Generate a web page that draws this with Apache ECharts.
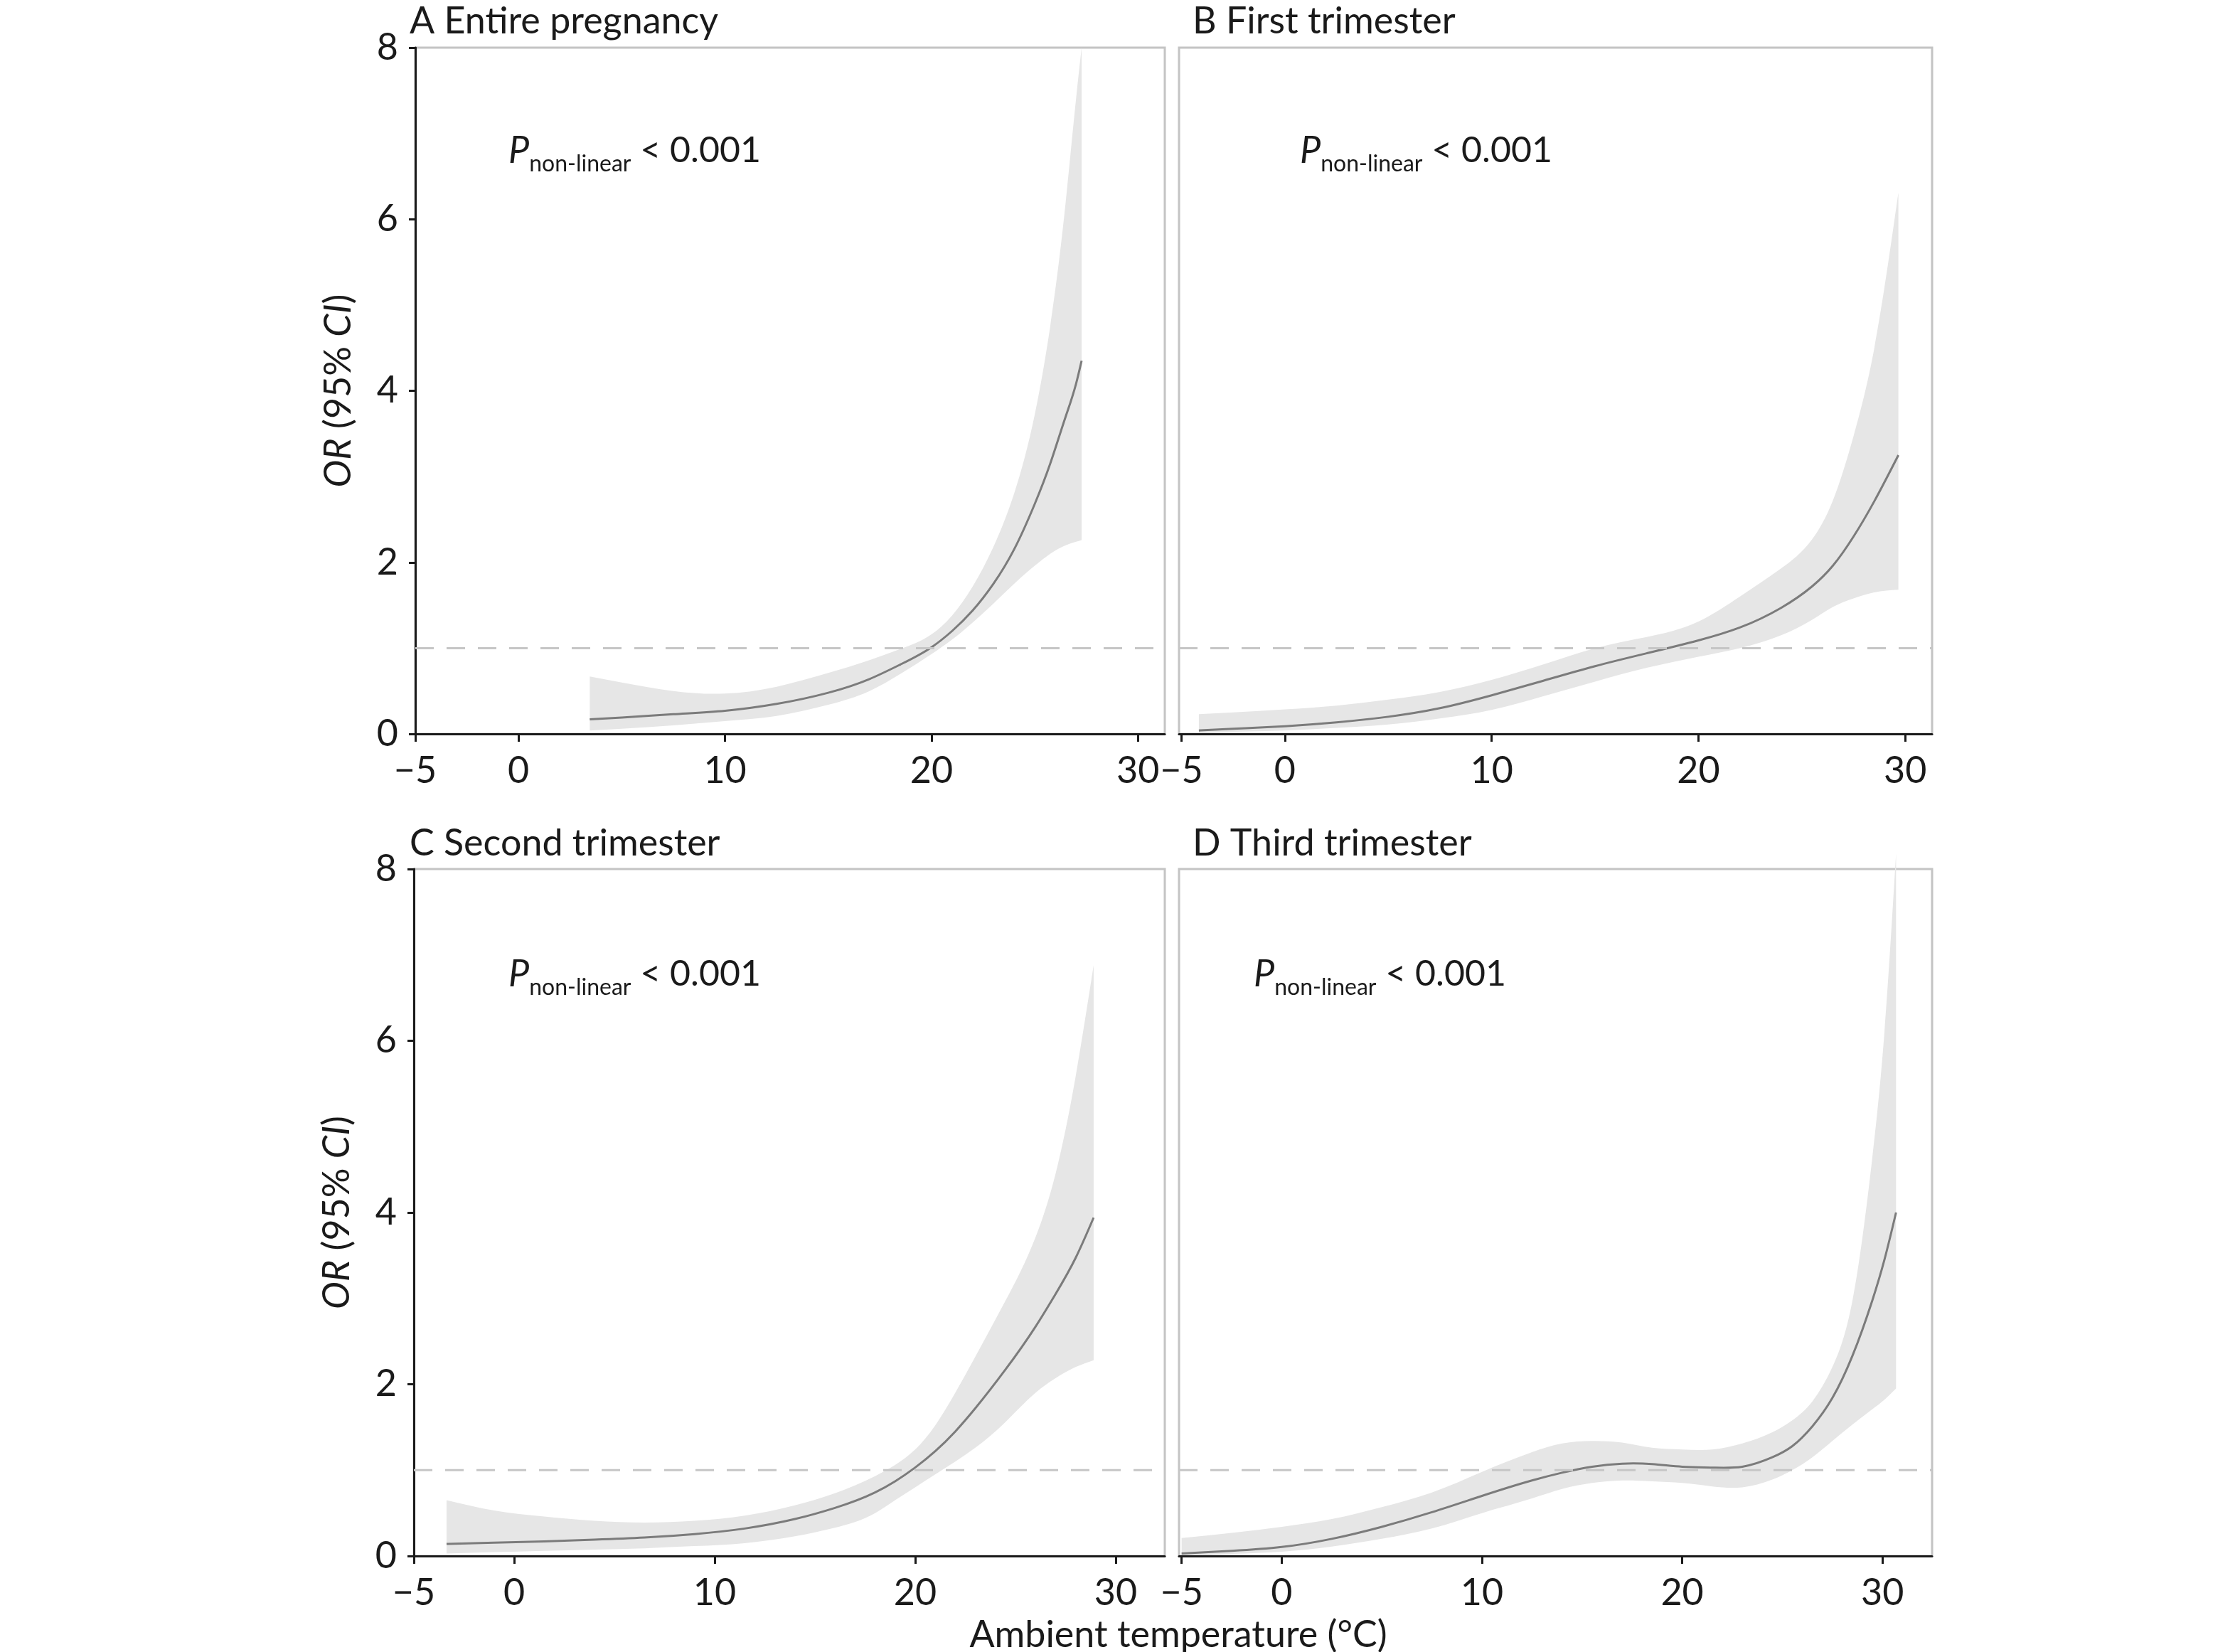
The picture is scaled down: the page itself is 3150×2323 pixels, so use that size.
<!DOCTYPE html>
<html>
<head>
<meta charset="utf-8">
<script src="https://cdn.jsdelivr.net/npm/echarts@6/dist/echarts.min.js"></script>
<style>
  html, body { margin: 0; padding: 0; background: #fff; }
  #chart { width: 3150px; height: 2323px; }
</style>
</head>
<body>
<div id="chart"></div>
<script>
// tick labels
const xTicks = [-5, 0, 10, 20, 30];
const yTicks = [0, 2, 4, 6, 8];

// A Entire pregnancy
const xA = [3.45, 5, 7.5, 10, 12.5, 15, 17, 18.5, 20, 21, 22, 23, 24, 25, 25.75, 26.5, 27, 27.27];
const orA = [0.17, 0.19, 0.23, 0.27, 0.35, 0.48, 0.64, 0.81, 1.01, 1.2, 1.44, 1.75, 2.15, 2.68, 3.15, 3.7, 4.08, 4.35];
const upA = [0.67, 0.6, 0.5, 0.47, 0.55, 0.71, 0.86, 0.99, 1.16, 1.38, 1.72, 2.18, 2.8, 3.72, 4.75, 6.2, 7.4, 8.0];
const loA = [0.04, 0.06, 0.1, 0.15, 0.21, 0.34, 0.5, 0.7, 0.93, 1.1, 1.3, 1.52, 1.75, 1.96, 2.1, 2.2, 2.24, 2.26];

// B First trimester
const xB = [-4.16, -2.5, 0, 2.5, 5, 7.5, 10, 12.5, 15, 17.5, 20, 22, 24, 25.5, 26.5, 27.5, 28.5, 29.67];
const orB = [0.04, 0.06, 0.09, 0.135, 0.2, 0.3, 0.45, 0.62, 0.79, 0.94, 1.09, 1.24, 1.47, 1.72, 1.96, 2.3, 2.71, 3.25];
const upB = [0.23, 0.25, 0.285, 0.33, 0.4, 0.49, 0.63, 0.81, 1.0, 1.13, 1.31, 1.6, 1.93, 2.27, 2.72, 3.47, 4.49, 6.31];
const loB = [0.015, 0.025, 0.04, 0.07, 0.11, 0.18, 0.28, 0.44, 0.61, 0.77, 0.9, 1.0, 1.15, 1.33, 1.48, 1.58, 1.65, 1.68];

// C Second trimester
const xC = [-3.37, -1, 1.5, 4, 6.5, 9, 11.5, 14, 16, 18, 19, 20, 21, 22, 23, 24.5, 26, 27, 28, 28.9];
const orC = [0.14, 0.155, 0.17, 0.19, 0.215, 0.255, 0.32, 0.43, 0.56, 0.74, 0.87, 1.03, 1.22, 1.45, 1.72, 2.17, 2.67, 3.05, 3.47, 3.94];
const upC = [0.65, 0.53, 0.46, 0.41, 0.39, 0.41, 0.47, 0.59, 0.73, 0.93, 1.06, 1.24, 1.52, 1.9, 2.32, 2.97, 3.71, 4.45, 5.58, 6.88];
const loC = [0.03, 0.045, 0.06, 0.075, 0.09, 0.115, 0.15, 0.23, 0.33, 0.5, 0.65, 0.8, 0.95, 1.1, 1.26, 1.56, 1.9, 2.07, 2.2, 2.28];

// D Third trimester
const xD = [-5, -2.5, 0, 2.5, 5, 7.5, 10, 12.5, 14, 15.5, 17, 18.5, 20, 21.5, 23, 24.5, 25.5, 26.5, 27.5, 28.5, 29.5, 30.1, 30.68];
const orD = [0.03, 0.06, 0.105, 0.2, 0.34, 0.51, 0.7, 0.88, 0.97, 1.04, 1.075, 1.07, 1.04, 1.03, 1.04, 1.15, 1.28, 1.51, 1.84, 2.33, 2.98, 3.45, 4.0];
const upD = [0.21, 0.27, 0.34, 0.43, 0.57, 0.74, 0.98, 1.21, 1.31, 1.34, 1.32, 1.26, 1.24, 1.24, 1.31, 1.44, 1.58, 1.8, 2.2, 2.97, 4.65, 6.1, 8.18];
const loD = [0.01, 0.025, 0.05, 0.11, 0.2, 0.32, 0.5, 0.67, 0.78, 0.85, 0.88, 0.87, 0.85, 0.81, 0.8, 0.89, 1.0, 1.15, 1.34, 1.53, 1.71, 1.82, 1.95];

const titles = ['A Entire pregnancy', 'B First trimester', 'C Second trimester', 'D Third trimester'];
const pText = '< 0.001';
const refOR = 1;

const FONT = 'Lato, "Open Sans", sans-serif';
const FS = 52;
const INK = '#1a1a1a';

const panels = [
  { x: xA, or: orA, up: upA, lo: loA, grid: { left: 584, top: 67, width: 1054, height: 965 }, xmin: -5, xmax: 31.3, yLabel: true },
  { x: xB, or: orB, up: upB, lo: loB, grid: { left: 1658, top: 67, width: 1059, height: 965 }, xmin: -5.12, xmax: 31.3, yLabel: false },
  { x: xC, or: orC, up: upC, lo: loC, grid: { left: 582, top: 1222, width: 1056, height: 966 }, xmin: -5, xmax: 32.45, yLabel: true },
  { x: xD, or: orD, up: upD, lo: loD, grid: { left: 1658, top: 1222, width: 1059, height: 966 }, xmin: -5.13, xmax: 32.48, yLabel: false }
];

// natural cubic spline (y as a function of x) through pixel points,
// returned as bezier segments [p0, c1, c2, p1]
function splineSegs(pts) {
  const n = pts.length, h = [], M = new Array(n).fill(0);
  for (let i = 0; i < n - 1; i++) h.push(pts[i + 1][0] - pts[i][0]);
  if (n > 2) {
    const a = [], b = [], c = [], r = [];
    for (let i = 1; i < n - 1; i++) {
      a.push(h[i - 1]); b.push(2 * (h[i - 1] + h[i])); c.push(h[i]);
      r.push(6 * ((pts[i + 1][1] - pts[i][1]) / h[i] - (pts[i][1] - pts[i - 1][1]) / h[i - 1]));
    }
    const m = b.length;
    for (let i = 1; i < m; i++) {
      const w = a[i] / b[i - 1];
      b[i] -= w * c[i - 1]; r[i] -= w * r[i - 1];
    }
    const s = new Array(m);
    s[m - 1] = r[m - 1] / b[m - 1];
    for (let i = m - 2; i >= 0; i--) s[i] = (r[i] - c[i] * s[i + 1]) / b[i];
    for (let i = 0; i < m; i++) M[i + 1] = s[i];
  }
  const segs = [];
  for (let i = 0; i < n - 1; i++) {
    const p0 = pts[i], p1 = pts[i + 1], hh = h[i], k = (p1[1] - p0[1]) / hh;
    const d0 = k - hh * (2 * M[i] + M[i + 1]) / 6;
    const d1 = k + hh * (M[i] + 2 * M[i + 1]) / 6;
    segs.push([p0, [p0[0] + hh / 3, p0[1] + d0 * hh / 3], [p1[0] - hh / 3, p1[1] - d1 * hh / 3], p1]);
  }
  return segs;
}
function fwd(segs) {
  return segs.map(function (s) { return ' C' + s[1].join(' ') + ' ' + s[2].join(' ') + ' ' + s[3].join(' '); }).join('');
}
function back(segs) {
  return segs.slice().reverse().map(function (s) { return ' C' + s[2].join(' ') + ' ' + s[1].join(' ') + ' ' + s[0].join(' '); }).join('');
}

// each panel: rows [x, lower, upper, or]; band + curve drawn once from all rows
function panelItem(params, api) {
  if (params.dataIndexInside !== 0) return null;
  const n = params.dataInsideLength;
  const top = [], bot = [], mid = [];
  for (let k = 0; k < n; k++) {
    const x = api.value(0, k);
    bot.push(api.coord([x, api.value(1, k)]));
    top.push(api.coord([x, api.value(2, k)]));
    mid.push(api.coord([x, api.value(3, k)]));
  }
  const band = 'M' + top[0].join(' ') + fwd(splineSegs(top)) +
    ' L' + bot[n - 1].join(' ') + back(splineSegs(bot)) + ' Z';
  const line = 'M' + mid[0].join(' ') + fwd(splineSegs(mid));
  return {
    type: 'group',
    children: [
      { type: 'path', shape: { pathData: band }, style: { fill: '#e6e6e6', stroke: null } },
      { type: 'path', shape: { pathData: line }, style: { fill: null, stroke: '#7b7b7b', lineWidth: 3 }, z2: 5 }
    ]
  };
}

const grid = [], xAxis = [], yAxis = [], series = [];

panels.forEach(function (p, i) {
  grid.push(Object.assign({ show: true, borderColor: '#c4c4c4', borderWidth: 3, backgroundColor: 'transparent' }, p.grid));

  xAxis.push({
    type: 'value', gridIndex: i, min: p.xmin, max: p.xmax,
    axisLine: { show: true, onZero: false, lineStyle: { color: INK, width: 3 } },
    axisTick: { show: true, length: 11, customValues: xTicks, lineStyle: { color: INK, width: 3 } },
    axisLabel: {
      customValues: xTicks, margin: 26, color: INK, fontSize: FS, fontFamily: FONT,
      formatter: function (v) { return v < 0 ? '\u2212' + Math.abs(v) : String(v); }
    },
    splitLine: { show: false }
  });

  yAxis.push({
    type: 'value', gridIndex: i, min: yTicks[0], max: yTicks[yTicks.length - 1], interval: 2,
    axisLine: { show: p.yLabel, onZero: false, lineStyle: { color: INK, width: 3 } },
    axisTick: { show: p.yLabel, length: 9, lineStyle: { color: INK, width: 3 } },
    axisLabel: { show: p.yLabel, margin: 24, color: INK, fontSize: FS, fontFamily: FONT },
    splitLine: { show: false },
    name: p.yLabel ? '{i|OR} (95% {i|CI})' : '',
    nameLocation: 'middle', nameGap: 82,
    nameTextStyle: {
      color: INK, fontSize: FS, fontFamily: FONT,
      rich: { i: { fontStyle: 'italic', fontSize: FS, fontFamily: FONT, color: INK } }
    }
  });

  series.push({
    type: 'custom', xAxisIndex: i, yAxisIndex: i,
    data: p.x.map(function (x, k) { return [x, p.lo[k], p.up[k], p.or[k]]; }),
    encode: { x: 0, y: [1, 2, 3] },
    renderItem: panelItem, silent: true, z: 1
  });
  // dashed reference at OR = 1 across the panel
  series.push({
    type: 'line', xAxisIndex: i, yAxisIndex: i,
    data: [[p.xmin, refOR], [p.xmax, refOR]],
    symbol: 'none', silent: true, z: 3,
    lineStyle: { color: '#c6c6c6', width: 3, type: [26, 18] }
  });
});

const titlePos = [[576, 30], [1677, 30], [576, 1186], [1677, 1186]];
const pPos = [[715, 212], [1828, 212], [715, 1370], [1763, 1370]];

const graphic = [];
titles.forEach(function (t, i) {
  graphic.push({
    type: 'text', x: titlePos[i][0], y: titlePos[i][1],
    style: { text: t, fill: INK, fontSize: FS, fontFamily: FONT, verticalAlign: 'middle', align: 'left' }
  });
  graphic.push({
    type: 'text', x: pPos[i][0], y: pPos[i][1],
    style: {
      text: '{p|P}{s|non-linear}{n| ' + pText + '}',
      fill: INK, verticalAlign: 'middle', align: 'left',
      rich: {
        p: { fontSize: FS, fontFamily: FONT, fontStyle: 'italic', lineHeight: 70, verticalAlign: 'middle', fill: INK },
        s: { fontSize: 32, fontFamily: FONT, lineHeight: 34, verticalAlign: 'bottom', fill: INK },
        n: { fontSize: 50, fontFamily: FONT, lineHeight: 70, verticalAlign: 'middle', fill: INK }
      }
    }
  });
});
graphic.push({
  type: 'text', x: 1657, y: 2299,
  style: { text: 'Ambient temperature (°C)', fill: INK, fontSize: FS, fontFamily: FONT, align: 'center', verticalAlign: 'middle' }
});

const chart = echarts.init(document.getElementById('chart'), null, { renderer: 'canvas' });
chart.setOption({
  animation: false,
  backgroundColor: '#ffffff',
  grid: grid,
  xAxis: xAxis,
  yAxis: yAxis,
  series: series,
  graphic: graphic
});
</script>
</body>
</html>
